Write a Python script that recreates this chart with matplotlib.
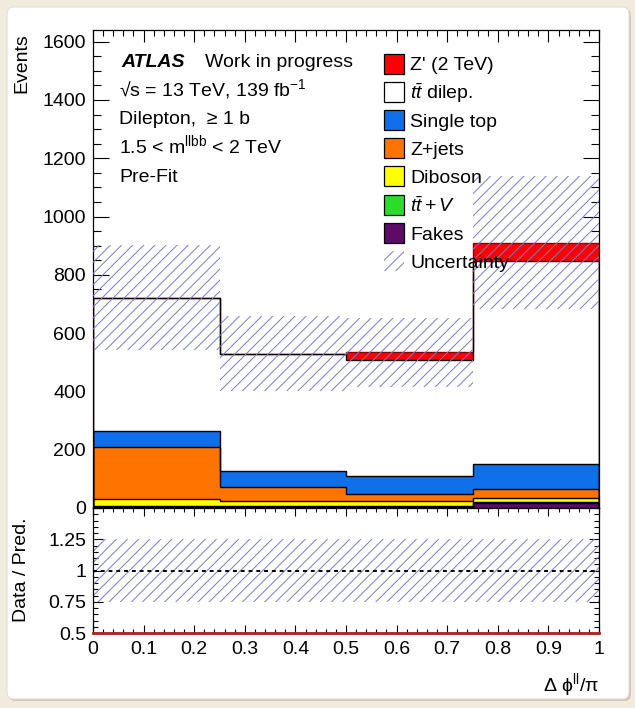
import numpy as np
import matplotlib
matplotlib.use("Agg")
import matplotlib.pyplot as plt
from matplotlib.patches import Rectangle, FancyBboxPatch
from matplotlib.ticker import MultipleLocator, FixedLocator, FixedFormatter

plt.rcParams['font.family'] = ['Liberation Sans', 'DejaVu Sans']
plt.rcParams['mathtext.fontset'] = 'custom'
plt.rcParams['mathtext.rm'] = 'Liberation Sans'
plt.rcParams['mathtext.it'] = 'Liberation Sans:italic'
plt.rcParams['mathtext.bf'] = 'Liberation Sans:bold'
plt.rcParams['hatch.linewidth'] = 0.7

# binning in delta phi / pi
edges = [0.0, 0.25, 0.5, 0.75, 1.0]

# pre-fit yields per bin, bottom of stack first
fakes = [5, 5, 5, 16]
ttv = [2, 2, 2, 3]
diboson = [25, 17, 17, 14]
zjets = [178, 49, 25, 31]
single_top = [54, 55, 61, 86]
ttbar = [455, 399, 398, 698]
zprime = [2, 3, 26, 62]
rel_unc = [0.25, 0.24, 0.22, 0.25]

# ratio panel uncertainty band edges
ratio_up = [1.25, 1.25, 1.25, 1.25]
ratio_dn = [0.745, 0.745, 0.745, 0.745]

names = ["Fakes", r"$t\bar{t}+V$", "Diboson", "Z+jets", "Single top",
         r"$t\bar{t}$ dilep.", "Z' (2 TeV)"]
colors = ["#5c0b67", "#2bdc2b", "#ffff00", "#ff7400", "#0e6fe8",
          "#ffffff", "#ff0000"]
samples = [fakes, ttv, diboson, zjets, single_top, ttbar, zprime]

hatch_col = "#7a7ac8"

W, H = 635, 708
fig = plt.figure(figsize=(W / 100, H / 100), dpi=100)
fig.set_facecolor("#f1ebdd")


def fx(x):
    return x / W


def fy(y):
    return 1 - y / H


# white panel with a soft shadow (the framed screenshot look)
fig.patches.append(FancyBboxPatch((fx(9), fy(701)), fx(622), 692 / H,
                                  boxstyle="round,pad=0,rounding_size=0.01",
                                  transform=fig.transFigure, facecolor="#cfc8b8",
                                  edgecolor="none", zorder=-2))
fig.patches.append(FancyBboxPatch((fx(7), fy(699)), fx(622), 692 / H,
                                  boxstyle="round,pad=0,rounding_size=0.01",
                                  transform=fig.transFigure, facecolor="white",
                                  edgecolor="#e4ddd0", lw=0.8, zorder=-1))

ax = fig.add_axes([fx(93), fy(508), fx(599 - 93), (508 - 30) / H])
axr = fig.add_axes([fx(93), fy(633), fx(599 - 93), (633 - 508) / H])

# stacked histograms, drawn from the top (cumulative) down
cum = np.cumsum(np.array(samples, dtype=float), axis=0)
total = cum[-1]
for i in range(len(samples) - 1, -1, -1):
    ec = "#8b0000" if i == len(samples) - 1 else "black"
    ax.stairs(cum[i], edges, baseline=0, fill=True, facecolor=colors[i],
              edgecolor="none", zorder=2)
    ax.stairs(cum[i], edges, baseline=0, fill=False, color=ec, lw=1.0, zorder=3)

# uncertainty band
unc = total * np.array(rel_unc)
ax.stairs(total + unc, edges, baseline=total - unc, fill=True, facecolor="none",
          edgecolor=hatch_col, lw=0, hatch="///", zorder=4)

ax.set_xlim(0, 1)
ax.set_ylim(0, 1640)
ax.yaxis.set_major_locator(MultipleLocator(200))
ax.yaxis.set_minor_locator(MultipleLocator(50))
ax.xaxis.set_major_locator(MultipleLocator(0.1))
ax.xaxis.set_minor_locator(MultipleLocator(0.02))
ax.tick_params(axis='both', which='both', direction='in', top=True, right=True,
               labelsize=14, width=0.8)
ax.tick_params(axis='y', which='major', length=11.5, pad=5)
ax.tick_params(axis='y', which='minor', length=5.8)
ax.tick_params(axis='x', which='major', length=8.5)
ax.tick_params(axis='x', which='minor', length=4.3)
ax.tick_params(axis='x', labelbottom=False)
for s in ax.spines.values():
    s.set_linewidth(0.9)

# ratio panel
axr.stairs(ratio_up, edges, baseline=ratio_dn, fill=True, facecolor="none",
           edgecolor=hatch_col, lw=0, hatch="///", zorder=2)
axr.axhline(1.0, color="black", lw=1.4, ls=(0, (2, 2)), zorder=3)
axr.axhline(0.5, color="#b02020", lw=2.0, zorder=3, clip_on=False)
axr.set_xlim(0, 1)
axr.set_ylim(0.5, 1.5)
axr.yaxis.set_major_locator(FixedLocator([0.5, 0.75, 1.0, 1.25, 1.5]))
axr.yaxis.set_major_formatter(FixedFormatter(["0.5", "0.75", "1", "1.25", ""]))
axr.yaxis.set_minor_locator(MultipleLocator(0.05))
axr.xaxis.set_major_locator(FixedLocator(np.linspace(0, 1, 11)))
axr.xaxis.set_major_formatter(FixedFormatter(
    ["0", "0.1", "0.2", "0.3", "0.4", "0.5", "0.6", "0.7", "0.8", "0.9", "1"]))
axr.xaxis.set_minor_locator(MultipleLocator(0.02))
axr.tick_params(axis='both', which='both', direction='in', top=True, right=True,
                labelsize=14, width=0.8)
axr.tick_params(axis='y', which='major', length=7.5, pad=5)
axr.tick_params(axis='y', which='minor', length=3.8)
axr.tick_params(axis='x', which='major', length=5.5, pad=6)
axr.tick_params(axis='x', which='minor', length=2.8)
for s in axr.spines.values():
    s.set_linewidth(0.9)

# axis titles
fig.text(fx(22), fy(33), "Events", rotation=90, ha="center", va="top", fontsize=14)
fig.text(fx(22), fy(570), "Data / Pred.", rotation=90, ha="center", va="center",
         fontsize=14)
fig.text(fx(599), fy(691), "\u0394 \u03d5$^{\\mathrm{ll}}$/\u03c0", ha="right",
         va="baseline", fontsize=14)

# ATLAS label block
fig.text(fx(121), fy(67), "ATLAS", fontsize=14, fontweight="bold",
         fontstyle="italic", va="baseline")
fig.text(fx(205), fy(67), "Work in progress", fontsize=14, va="baseline")
info = ["\u221as = 13 TeV, 139 fb$^{\\mathrm{-1}}$", "Dilepton,  \u2265 1 b",
        r"1.5 < m$^{\mathrm{llbb}}$ < 2 TeV", "Pre-Fit"]
for k, t in enumerate(info):
    fig.text(fx(119), fy(96 + 28.5 * k), t, fontsize=14, va="baseline")

# legend, drawn by hand to match the ROOT layout
leg_names = names[::-1] + ["Uncertainty"]
leg_colors = colors[::-1] + [None]
for k, (n, c) in enumerate(zip(leg_names, leg_colors)):
    yc = 63.5 + 28.2 * k
    if c is None:
        r = Rectangle((fx(384), fy(yc + 10)), fx(20), 20 / H, transform=fig.transFigure,
                      facecolor="none", edgecolor=hatch_col, lw=0, hatch="///")
    else:
        r = Rectangle((fx(384), fy(yc + 10)), fx(20), 20 / H, transform=fig.transFigure,
                      facecolor=c, edgecolor="black", lw=0.9)
    fig.patches.append(r)
    fig.text(fx(410), fy(yc + 7), n, fontsize=14, va="baseline", zorder=5)

fig.savefig("out.png", dpi=100, facecolor=fig.get_facecolor())
